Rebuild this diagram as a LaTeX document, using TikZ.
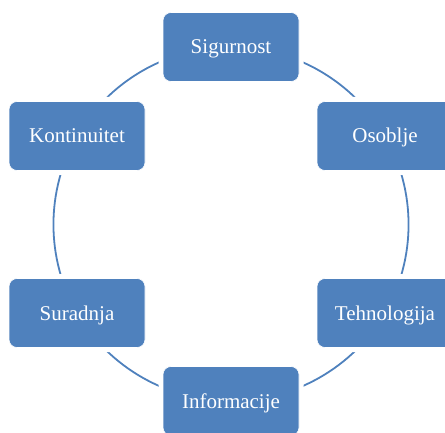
\documentclass[tikz,border=0pt]{standalone}
\usepackage{fontspec}
\setmainfont{Liberation Serif}
\usepackage{tikz}
\usetikzlibrary{arrows,shapes}
\pgfdeclarelayer{background}
\pgfsetlayers{background,main}
\definecolor{boxblue}{HTML}{4F81BD}
\tikzstyle{factor}=[rectangle,rounded corners=8pt,fill=boxblue,draw=white,line width=0.6pt,preaction={draw=white,line width=9pt},minimum width=136pt,minimum height=69pt,inner sep=0pt,text height=14pt,text depth=0pt,text=white,font=\fontsize{21}{25}\selectfont]
\tikzstyle{link} = [draw,boxblue,line width=1.8pt,-]

\begin{document}
\begin{tikzpicture}[x=1pt,y=1pt]
    \useasboundingbox (0,0) rectangle (445,432);
    % Draw the six factors round a circle
    % First we draw the boxes
    \foreach \pos/\name/\txt in {{(231,385)/sig/Sigurnost}, {(385,296)/oso/Osoblje}, {(385,119)/teh/Tehnologija}, {(231,31)/inf/Informacije}, {(77,119)/sur/Suradnja}, {(77,296)/kon/Kontinuitet}}
        \node[factor] (\name) at \pos {\txt};

    % Connect boxes with arcs, behind the boxes
    \begin{pgfonlayer}{background}
    \foreach \source/ \dest in {sig/oso, oso/teh, teh/inf, inf/sur, sur/kon, kon/sig}
        \path[link] (\source.center) to[bend left=30,looseness=0.91] (\dest.center);
    \end{pgfonlayer}

\end{tikzpicture}
\end{document}
